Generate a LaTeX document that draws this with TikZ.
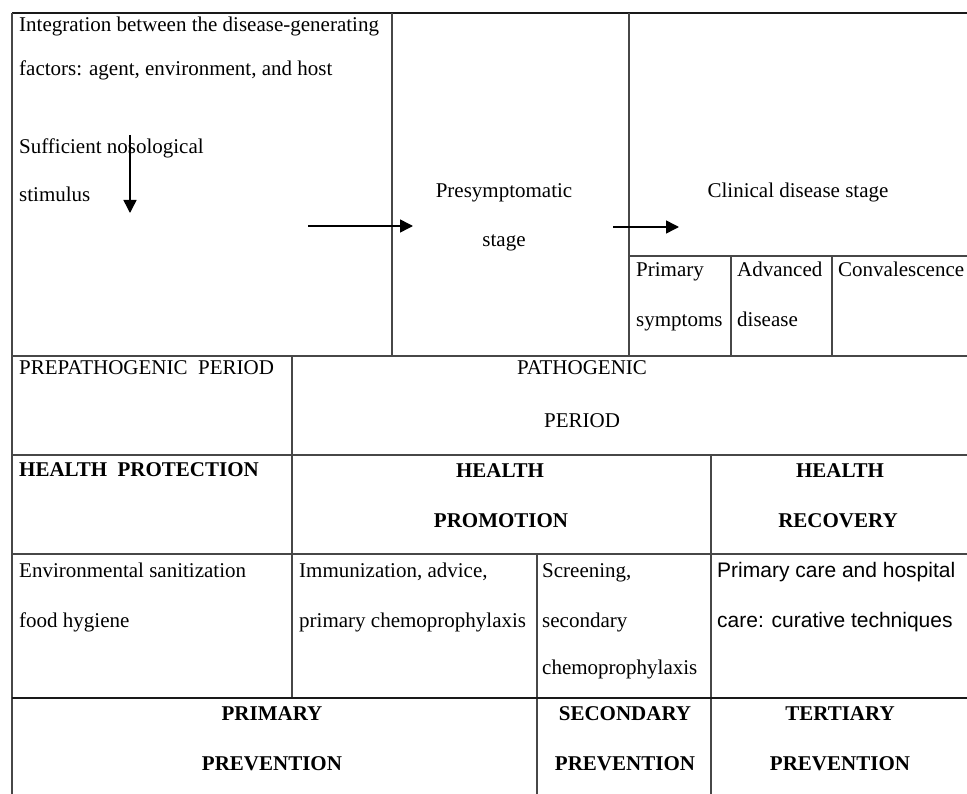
\documentclass[tikz,border=0pt]{standalone}
\usepackage{fontspec}
\setmainfont{Liberation Serif}
\newfontfamily\arialfont{Liberation Sans}
\usetikzlibrary{arrows.meta}

\begin{document}
\begin{tikzpicture}[x=1pt,y=-1pt,
  grid/.style={line width=1.2pt, draw=black!72},
  heavy/.style={line width=1.7pt, draw=black!90},
  flow/.style={line width=1.5pt, -{Triangle[length=13pt,width=13pt]}},
  lt/.style={anchor=base west, inner sep=0pt, font=\fontsize{21}{25}\selectfont},
  ct/.style={anchor=base, inner sep=0pt, font=\fontsize{21}{25}\selectfont},
  bct/.style={anchor=base, inner sep=0pt, font=\fontsize{21}{25}\selectfont\bfseries},
  blt/.style={anchor=base west, inner sep=0pt, font=\fontsize{21}{25}\selectfont\bfseries},
  slt/.style={anchor=base west, inner sep=0pt, font=\fontsize{21}{25}\selectfont\arialfont}
]
\useasboundingbox (0,0) rectangle (967,794);

% table rules
\draw[heavy] (12,13) -- (967,13);
\draw[grid] (12,13) -- (12,794);
\draw[grid] (392,13) -- (392,356);
\draw[grid] (629,13) -- (629,356);
\draw[grid] (629,256) -- (967,256);
\draw[grid] (731,256) -- (731,356);
\draw[grid] (832,256) -- (832,356);
\draw[grid] (12,356) -- (967,356);
\draw[grid] (292,356) -- (292,698);
\draw[grid] (12,455) -- (967,455);
\draw[grid] (711,455) -- (711,794);
\draw[grid] (12,554) -- (967,554);
\draw[grid] (537,554) -- (537,794);
\draw[heavy] (12,698) -- (967,698);

% natural history of disease
\node[lt] (integ1) at (19,32) {Integration between the disease-generating};
\node[lt] (integ2) at (19,76) {factors: agent, environment, and host};
\node[lt] (stim1) at (19,154) {Sufficient nosological};
\node[lt] (stim2) at (19,202) {stimulus};
\node[ct] (presym1) at (504,198) {Presymptomatic};
\node[ct] (presym2) at (504,247) {stage};
\node[ct] (clin) at (798,198) {Clinical disease stage};
\node[lt] (prim1) at (636,277) {Primary};
\node[lt] (prim2) at (636,327) {symptoms};
\node[lt] (adv1) at (737,277) {Advanced};
\node[lt] (adv2) at (737,327) {disease};
\node[lt] (conv) at (838,277) {Convalescence};

% arrows
\coordinate (s1) at (130,135);
\coordinate (e1) at (130,213);
\coordinate (s2) at (308,226);
\coordinate (e2) at (413,226);
\coordinate (s3) at (613,227);
\coordinate (e3) at (679,227);
\draw[flow] (s1) -- (e1);
\draw[flow] (s2) -- (e2);
\draw[flow] (s3) -- (e3);

% periods
\node[lt] (prepat) at (19,375) {PREPATHOGENIC\ \ PERIOD};
\node[ct] (pat1) at (582,375) {PATHOGENIC};
\node[ct] (pat2) at (582,427) {PERIOD};

% health actions
\node[blt] (prot) at (19,476) {HEALTH\ \ PROTECTION};
\node[bct] (promo1) at (500,477) {HEALTH};
\node[bct] (promo2) at (501,527) {PROMOTION};
\node[bct] (recov1) at (840,477) {HEALTH};
\node[bct] (recov2) at (838,527) {RECOVERY};

% measures
\node[lt] (env1) at (19,577) {Environmental sanitization};
\node[lt] (env2) at (19,627) {food hygiene};
\node[lt] (imm1) at (299,577) {Immunization, advice,};
\node[lt] (imm2) at (299,627) {primary chemoprophylaxis};
\node[lt] (scr1) at (542,577) {Screening,};
\node[lt] (scr2) at (542,627) {secondary};
\node[lt] (scr3) at (542,674) {chemoprophylaxis};
\node[slt] (care1) at (717,577) {Primary care and hospital};
\node[slt] (care2) at (717,627) {care: curative techniques};

% levels of prevention
\node[bct] (pp1) at (272,720) {PRIMARY};
\node[bct] (pp2) at (272,770) {PREVENTION};
\node[bct] (sp1) at (625,720) {SECONDARY};
\node[bct] (sp2) at (625,770) {PREVENTION};
\node[bct] (tp1) at (840,720) {TERTIARY};
\node[bct] (tp2) at (840,770) {PREVENTION};
\end{tikzpicture}
\end{document}
